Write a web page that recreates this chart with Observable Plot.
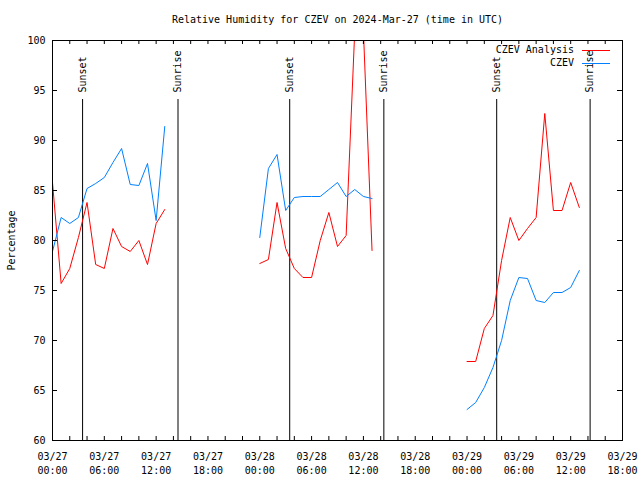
<!DOCTYPE html>
<html>
<head>
<meta charset="utf-8">
<script src="https://cdn.jsdelivr.net/npm/d3@7"></script>
<script src="https://cdn.jsdelivr.net/npm/@observablehq/plot@0.6"></script>
<style>
  html, body { margin: 0; padding: 0; background: #fff; }
  #chart { width: 640px; height: 480px; }
</style>
</head>
<body>
<div id="chart"></div>
<script>
// ---- Data ----
const title = "Relative Humidity for CZEV on 2024-Mar-27 (time in UTC)";
const seriesNames = ["CZEV Analysis", "CZEV"];
const seriesColors = ["#ff0000", "#0080ff"];

// start of each hourly segment (UTC)
const segmentStarts = ["2024-03-27T00:00Z", "2024-03-28T00:00Z", "2024-03-29T00:00Z"];

// CZEV Analysis (red), hourly
const analysisDay1 = [85.8, 75.7, 77.2, 80.3, 83.8, 77.6, 77.2, 81.2, 79.4, 78.9, 80.0, 77.6, 81.7, 83.1];
const analysisDay2 = [77.7, 78.1, 83.8, 79.2, 77.2, 76.3, 76.3, 80.0, 82.8, 79.4, 80.5, 101.0, 101.0, 79.0];
const analysisDay3 = [67.9, 67.9, 71.2, 72.5, 78.0, 82.3, 80.0, 81.2, 82.3, 92.7, 83.0, 83.0, 85.8, 83.3];

// CZEV observations (blue), hourly
const obsDay1 = [78.9, 82.3, 81.7, 82.3, 85.2, 85.7, 86.3, 87.8, 89.2, 85.6, 85.5, 87.7, 82.0, 91.4];
const obsDay2 = [80.3, 87.2, 88.6, 83.0, 84.3, 84.4, 84.4, 84.4, 85.1, 85.8, 84.4, 85.1, 84.4, 84.2];
const obsDay3 = [63.1, 63.8, 65.3, 67.3, 70.0, 74.0, 76.3, 76.2, 74.0, 73.8, 74.8, 74.8, 75.3, 77.0];

// Sun events
const sunTimes = ["2024-03-27T03:29Z", "2024-03-27T14:32Z", "2024-03-28T03:28Z", "2024-03-28T14:22Z", "2024-03-29T03:26Z", "2024-03-29T14:15Z"];
const sunLabels = ["Sunset", "Sunrise", "Sunset", "Sunrise", "Sunset", "Sunrise"];

// Axis settings
const xDomain = ["2024-03-27T00:00Z", "2024-03-29T18:00Z"];
const yDomain = [60, 100];
const yTicks = [60, 65, 70, 75, 80, 85, 90, 95, 100];

// ---- Build tables ----
function toRows(arrays, series) {
  const rows = [];
  arrays.forEach((arr, s) => {
    const t0 = new Date(segmentStarts[s]);
    arr.forEach((v, i) => rows.push({time: d3.utcHour.offset(t0, i), value: v, series, seg: series + s}));
  });
  return rows;
}
const analysisRows = toRows([analysisDay1, analysisDay2, analysisDay3], seriesNames[0]);
const obsRows = toRows([obsDay1, obsDay2, obsDay3], seriesNames[1]);
const sunEvents = sunTimes.map((t, i) => ({time: new Date(t), label: sunLabels[i]}));

const x0 = new Date(xDomain[0]), x1 = new Date(xDomain[1]);
const ticks2h = d3.utcHour.every(2).range(x0, d3.utcHour.offset(x1, 1));
const ticks6h = d3.utcHour.every(6).range(x0, d3.utcHour.offset(x1, 1));
const fmt = d3.utcFormat("%m/%d\n%H:%M");

const W = 640, H = 480, mL = 52, mR = 18, mT = 40, mB = 40;
const innerW = W - mL - mR, innerH = H - mT - mB;

const chart = Plot.plot({
  width: W,
  height: H,
  marginLeft: mL,
  marginRight: mR,
  marginTop: mT,
  marginBottom: mB,
  style: {fontFamily: "'DejaVu Sans Mono', monospace", fontSize: "10px", background: "#fff", color: "#000"},
  x: {type: "utc", domain: [x0, x1]},
  y: {domain: yDomain},
  marks: [
    // sunrise / sunset lines and labels
    Plot.ruleX(sunEvents, {x: "time", stroke: "#000", strokeWidth: 1, insetTop: 59}),
    Plot.text(sunEvents, {x: "time", text: "label", frameAnchor: "top", dy: 52, rotate: -90, textAnchor: "start", lineAnchor: "middle", fill: "#000"}),
    // data lines
    Plot.line(analysisRows, {x: "time", y: "value", z: "seg", stroke: seriesColors[0], strokeWidth: 1, clip: true}),
    Plot.line(obsRows, {x: "time", y: "value", z: "seg", stroke: seriesColors[1], strokeWidth: 1, clip: true}),
    // inward ticks
    Plot.ruleX(ticks2h, {stroke: "#000", insetTop: innerH - 4}),
    Plot.ruleX(ticks2h, {stroke: "#000", insetBottom: innerH - 4}),
    Plot.ruleY(yTicks, {stroke: "#000", insetRight: innerW - 5}),
    Plot.ruleY(yTicks, {stroke: "#000", insetLeft: innerW - 5}),
    // axes labels
    Plot.axisX(ticks6h, {tickSize: 0, tickPadding: 10, tickFormat: fmt, lineHeight: 1.4, label: null, fill: "#000"}),
    Plot.axisY(yTicks, {tickSize: 0, tickPadding: 7, label: null, fill: "#000"}),
    Plot.text(["Percentage"], {text: d => d, frameAnchor: "left", rotate: -90, dx: -41, textAnchor: "middle", lineAnchor: "middle", fill: "#000"}),
    Plot.text([title], {text: d => d, frameAnchor: "top", dy: -21, lineAnchor: "middle", fill: "#000"}),
    Plot.frame({stroke: "#000", strokeWidth: 1})
  ]
});

document.getElementById("chart").appendChild(chart);

// Legend (inside plot, top-right)
const svg = d3.select(chart);
const lg = svg.append("g").attr("font-family", "'DejaVu Sans Mono', monospace").attr("font-size", 10);
seriesNames.forEach((name, i) => {
  const yy = mT + 10 + i * 13;
  const xr = W - mR;
  lg.append("text").attr("x", xr - 48).attr("y", yy).attr("dy", "0.32em").attr("text-anchor", "end").attr("fill", "#000").text(name);
  lg.append("line").attr("x1", xr - 40).attr("x2", xr - 12).attr("y1", yy + 0.5).attr("y2", yy + 0.5).attr("stroke", seriesColors[i]).attr("stroke-width", 1);
});
</script>
</body>
</html>
